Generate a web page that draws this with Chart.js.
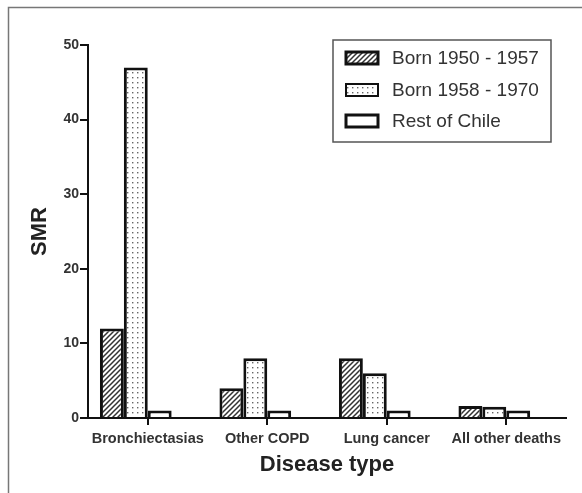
<!DOCTYPE html>
<html>
<head>
<meta charset="utf-8">
<script src="https://cdn.jsdelivr.net/npm/chart.js@4.4.0/dist/chart.umd.min.js"></script>
<style>
  html, body { margin: 0; padding: 0; background: #fff; }
  #wrap { width: 582px; height: 493px; }
</style>
</head>
<body>
<div id="wrap"><canvas id="chart"></canvas></div>
<script>
// --- data ---
const categories = ['Bronchiectasias', 'Other COPD', 'Lung cancer', 'All other deaths'];
const born1950 = [12, 4, 8, 1.6];
const born1958 = [47, 8, 6, 1.5];
const restChile = [1, 1, 1, 1];
const seriesNames = ['Born 1950 - 1957', 'Born 1958 - 1970', 'Rest of Chile'];
const yTicks = [0, 10, 20, 30, 40, 50];

// --- fill patterns ---
function hatchPattern() {
    const c = document.createElement('canvas');
    c.width = 5; c.height = 5;
    const g = c.getContext('2d');
    g.fillStyle = '#fff';
    g.fillRect(0, 0, 5, 5);
    g.strokeStyle = '#333';
    g.lineWidth = 1.5;
    g.beginPath();
    g.moveTo(-1, 6); g.lineTo(6, -1);
    g.moveTo(-3.5, 3.5); g.lineTo(3.5, -3.5);
    g.moveTo(1.5, 8.5); g.lineTo(8.5, 1.5);
    g.stroke();
    return g.createPattern(c, 'repeat');
}

function dotPattern() {
    const c = document.createElement('canvas');
    c.width = 5; c.height = 5;
    const g = c.getContext('2d');
    g.fillStyle = '#fff';
    g.fillRect(0, 0, 5, 5);
    g.fillStyle = '#666';
    g.fillRect(2, 2, 1.4, 1.4);
    return g.createPattern(c, 'repeat');
}

const fills = [hatchPattern(), dotPattern(), '#fff'];

// outer frame of the figure
const framePlugin = {
    id: 'frame',
    beforeDraw(chart) {
        const ctx = chart.ctx;
        ctx.save();
        ctx.fillStyle = '#fff';
        ctx.fillRect(0, 0, chart.width, chart.height);
        ctx.strokeStyle = '#777';
        ctx.lineWidth = 1.5;
        ctx.strokeRect(8.5, 7.5, 800, 800);
        ctx.restore();
    }
};

// boxed legend inside the plot, top right
const boxLegend = {
    id: 'boxLegend',
    afterDraw(chart) {
        const ctx = chart.ctx;
        const x = 333, y = 40, w = 218, h = 102;
        ctx.save();
        ctx.fillStyle = '#fff';
        ctx.fillRect(x, y, w, h);
        ctx.strokeStyle = '#555';
        ctx.lineWidth = 1.5;
        ctx.strokeRect(x, y, w, h);
        ctx.font = '19px "Liberation Sans", Arial, sans-serif';
        ctx.textBaseline = 'middle';
        const rows = [58, 90, 121];
        chart.data.datasets.filter(ds => ds.label).forEach((ds, i) => {
            const cy = rows[i];
            ctx.fillStyle = ds.backgroundColor;
            ctx.fillRect(346, cy - 6, 32, 12);
            ctx.strokeStyle = '#111';
            ctx.lineWidth = i === 1 ? 2 : 3;
            ctx.strokeRect(346, cy - 6, 32, 12);
            ctx.fillStyle = '#333';
            ctx.fillText(ds.label, 392, cy + 1);
        });
        ctx.restore();
    }
};

const tickFont = { family: '"Liberation Sans", Arial, sans-serif', size: 14.5, weight: 'bold' };

const datasets = [born1950, born1958, restChile].map((vals, i) => ({
    label: seriesNames[i],
    data: vals,
    backgroundColor: fills[i],
    borderColor: '#111',
    borderWidth: 3,
    categoryPercentage: 0.8,
    barPercentage: 1.0
}));
// empty slot on the right: the original groups sit left of the tick
datasets.push({ label: '', data: categories.map(() => null), categoryPercentage: 0.8, barPercentage: 1.0 });

new Chart(document.getElementById('chart'), {
    type: 'bar',
    data: { labels: categories, datasets },
    options: {
        responsive: true,
        maintainAspectRatio: false,
        animation: false,
        layout: { padding: { left: 0, top: 45, right: 16, bottom: 0 } },
        plugins: { legend: { display: false }, tooltip: { enabled: false } },
        scales: {
            x: {
                grid: { drawOnChartArea: false, drawTicks: true, tickLength: 7, offset: false, color: '#111', lineWidth: 2 },
                border: { display: true, color: '#111', width: 2 },
                ticks: { color: '#333', font: tickFont, padding: 5, maxRotation: 0, autoSkip: false },
                title: {
                    display: true, text: 'Disease type', color: '#222',
                    font: { family: '"Liberation Sans", Arial, sans-serif', size: 22, weight: 'bold' },
                    padding: { top: 0, bottom: 15 }
                },
                afterFit(scale) { scale.height = 75; }
            },
            y: {
                min: 0, max: 50,
                afterBuildTicks(scale) { scale.ticks = yTicks.map(v => ({ value: v })); },
                grid: { drawOnChartArea: false, drawTicks: true, tickLength: 8, color: '#111', lineWidth: 2 },
                border: { display: true, color: '#111', width: 2 },
                ticks: { color: '#333', font: { ...tickFont, size: 14 }, padding: 1 },
                title: {
                    display: true, text: 'SMR', color: '#222',
                    font: { family: '"Liberation Sans", Arial, sans-serif', size: 22, weight: 'bold' },
                    padding: { top: 27, bottom: 0 }
                },
                afterFit(scale) { scale.width = 88; }
            }
        }
    },
    plugins: [framePlugin, boxLegend]
});
</script>
</body>
</html>
